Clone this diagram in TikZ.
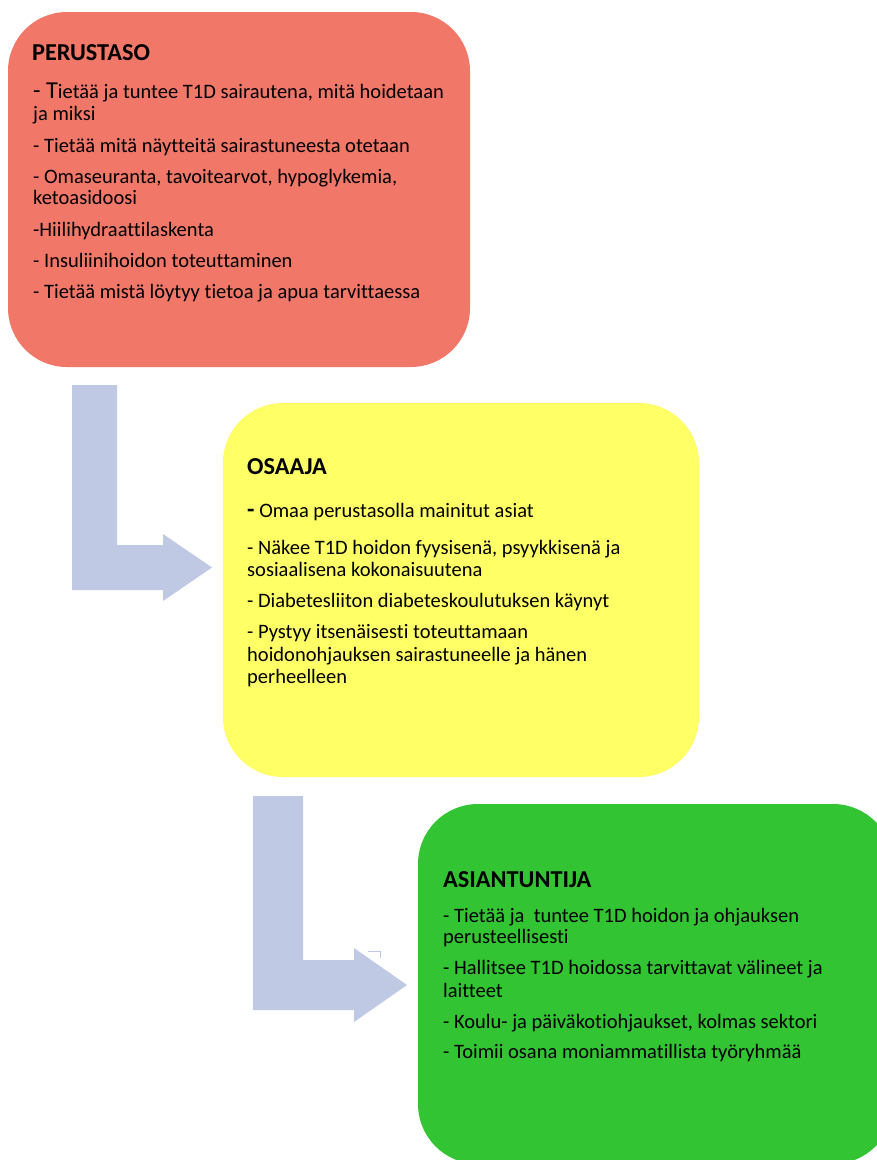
\documentclass[tikz,border=0pt]{standalone}
\usepackage{fontspec}
\setmainfont[Ligatures=NoCommon]{Carlito}
\definecolor{redbox}{HTML}{F17768}
\definecolor{yellowbox}{HTML}{FFFF66}
\definecolor{greenbox}{HTML}{33C433}
\definecolor{arrowblue}{HTML}{BFC9E3}
\begin{document}
\begin{tikzpicture}[x=1pt,y=-1pt,
  panel/.style={anchor=north west, inner sep=0pt, outer sep=0pt, draw=none},
  ttl/.style={anchor=base west, inner sep=0pt, font=\fontsize{24.3}{26}\selectfont\bfseries},
  txt/.style={anchor=base west, inner sep=0pt, font=\fontsize{20.5}{22}\selectfont},
  blockarrow/.style={fill=arrowblue, draw=none}]
\useasboundingbox (0,0) rectangle (877,1160);
\clip (0,0) rectangle (877,1160);

% the three level panels
\node[panel, fill=redbox, rounded corners=59pt, minimum width=462pt, minimum height=355pt] (perus) at (8,12) {};
\node[panel, fill=yellowbox, rounded corners=60pt, minimum width=476pt, minimum height=374pt] (osaaja) at (223,403) {};
\node[panel, fill=greenbox, rounded corners=60pt, minimum width=475pt, minimum height=360pt] (asian) at (418,804) {};

% bent block arrows between the levels
\fill[blockarrow] (72,385) -- (117,385) -- (117,545) -- (163,545) -- (163,534) -- (212,567.5)
  -- (163,601) -- (163,590) -- (72,590) -- cycle;
\fill[blockarrow] (253,796) -- (303,796) -- (303,960) -- (354,960) -- (354,948) -- (407,985)
  -- (354,1022) -- (354,1010) -- (253,1010) -- cycle;
\draw[arrowblue, line width=1pt] (368,951) -- (380,951) -- (380,958);

% PERUSTASO
\node[ttl] (p0) at (32,60) {PERUSTASO};
\node[txt] (p1) at (33,98) {{\fontsize{24.3}{26}\selectfont - T}ietää ja tuntee T1D sairautena, mitä hoidetaan};
\node[txt] (p2) at (33,120) {ja miksi};
\node[txt] (p3) at (33,152) {- Tietää mitä näytteitä sairastuneesta otetaan};
\node[txt] (p4) at (33,183) {- Omaseuranta, tavoitearvot, hypoglykemia,};
\node[txt] (p5) at (33,204) {ketoasidoosi};
\node[txt] (p6) at (33,236) {-Hiilihydraattilaskenta};
\node[txt] (p7) at (33,267) {- Insuliinihoidon toteuttaminen};
\node[txt] (p8) at (33,298) {- Tietää mistä löytyy tietoa ja apua tarvittaessa};

% OSAAJA
\node[ttl] (o0) at (247,474) {OSAAJA};
\node[txt] (o1) at (247,517) {{\fontsize{24.3}{26}\selectfont\bfseries -} Omaa perustasolla mainitut asiat};
\node[txt] (o2) at (247,554) {- Näkee T1D hoidon fyysisenä, psyykkisenä ja};
\node[txt] (o3) at (247,576) {sosiaalisena kokonaisuutena};
\node[txt] (o4) at (247,607) {- Diabetesliiton diabeteskoulutuksen käynyt};
\node[txt] (o5) at (247,638) {- Pystyy itsenäisesti toteuttamaan};
\node[txt] (o6) at (247,661) {hoidonohjauksen sairastuneelle ja hänen};
\node[txt] (o7) at (247,683) {perheelleen};

% ASIANTUNTIJA
\node[ttl] (a0) at (443,887) {ASIANTUNTIJA};
\node[txt] (a1) at (443,922) {- Tietää ja\ \ tuntee T1D hoidon ja ohjauksen};
\node[txt] (a2) at (443,943) {perusteellisesti};
\node[txt] (a3) at (443,974) {- Hallitsee T1D hoidossa tarvittavat välineet ja};
\node[txt] (a4) at (443,997) {laitteet};
\node[txt] (a5) at (443,1028) {- Koulu- ja päiväkotiohjaukset, kolmas sektori};
\node[txt] (a6) at (443,1058) {- Toimii osana moniammatillista työryhmää};
\end{tikzpicture}
\end{document}
